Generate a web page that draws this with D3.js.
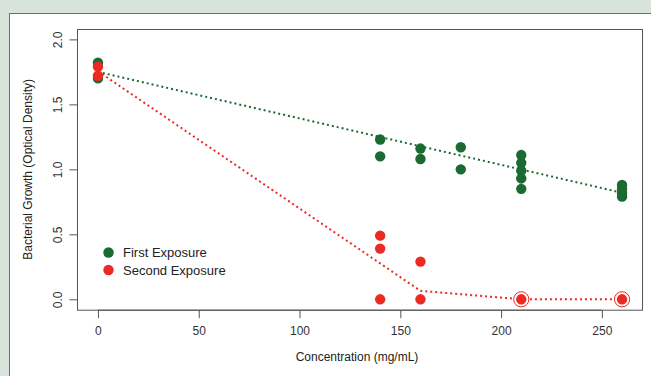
<!DOCTYPE html>
<html><head><meta charset="utf-8">
<script src="https://cdn.jsdelivr.net/npm/d3@7"></script>
<style>
html,body{margin:0;padding:0;background:#d8e4db;}
svg{display:block;font-family:"Liberation Sans",Arial,sans-serif;}
</style></head>
<body><svg id="c" width="651" height="376"></svg>
<script>
// ---- data ----
const firstX = [0,0,140,140,160,160,180,180,210,210,210,210,210,260,260,260,260];
const firstY = [1.82,1.70,1.23,1.10,1.16,1.08,1.17,1.00,1.11,1.05,0.99,0.93,0.85,0.88,0.85,0.82,0.79];
const secondX = [0,0,140,140,140,160,160,210,260];
const secondY = [1.79,1.72,0.49,0.39,0.00,0.29,0.00,0.00,0.00];
const ringX = [210,260];
const ringY = [0,0];
const fitFirstX = [0,260];
const fitFirstY = [1.75,0.82];
const fitSecondX = [0,160,210,260];
const fitSecondY = [1.755,0.065,0,0];
const xTicks = [0,50,100,150,200,250];
const yTicks = [0.0,0.5,1.0,1.5,2.0];
const seriesNames = ["First Exposure","Second Exposure"];
const colors = ["#1b6a31","#ec2a24"];

const svg = d3.select("#c");
// outer panel
svg.append("rect").attr("x",9.5).attr("y",13.5).attr("width",660).attr("height",400)
  .attr("fill","#fff").attr("stroke","#6f6f6f").attr("stroke-width",1);

const L=77, R=643, T=29, B=309.7;
const x = d3.scaleLinear().domain([-10.4,270.4]).range([L,R]);
const y = d3.scaleLinear().domain([-0.08,2.08]).range([B,T]);

// box
svg.append("rect").attr("x",L+0.5).attr("y",T+0.5).attr("width",R-L-1).attr("height",B-T)
  .attr("fill","none").attr("stroke","#555").attr("stroke-width",1);

// x axis
const xa = svg.append("g").attr("transform",`translate(0,${B+0.5})`)
  .call(d3.axisBottom(x).tickValues(xTicks).tickSize(8).tickPadding(8).tickFormat(d3.format("d")));
xa.select(".domain").attr("d",`M${x(0)},0H${x(250)}`).attr("stroke","#555");
xa.selectAll("line").attr("stroke","#555");
xa.selectAll("text").attr("font-size",12).attr("fill","#333").attr("font-family","Liberation Sans, Arial, sans-serif");

// y axis
const ya = svg.append("g").attr("transform",`translate(${L+0.5},0)`)
  .call(d3.axisLeft(y).tickValues(yTicks).tickSize(8).tickPadding(0).tickFormat(d3.format(".1f")));
ya.select(".domain").attr("d",`M0,${y(0)}V${y(2)}`).attr("stroke","#555");
ya.selectAll("line").attr("stroke","#555");
ya.selectAll("text").attr("font-size",12).attr("fill","#333")
  .attr("font-family","Liberation Sans, Arial, sans-serif")
  .attr("text-anchor","middle").attr("dy",null)
  .attr("transform","translate(-20,0) rotate(-90)").attr("x",0).attr("y",4);

// titles
svg.append("text").attr("x",357).attr("y",361).attr("text-anchor","middle")
  .attr("font-size",12).attr("fill","#222").text("Concentration (mg/mL)");
svg.append("text").attr("transform",`translate(32,${(T+B)/2}) rotate(-90)`).attr("text-anchor","middle")
  .attr("font-size",12).attr("fill","#222").text("Bacterial Growth (Optical Density)");

// lines
const line = d3.line().x(d=>x(d[0])).y(d=>y(d[1]));
svg.append("path").datum(fitFirstX.map((v,i)=>[v,fitFirstY[i]])).attr("d",line)
  .attr("fill","none").attr("stroke",colors[0]).attr("stroke-width",2).attr("stroke-dasharray","2,3");
svg.append("path").datum(fitSecondX.map((v,i)=>[v,fitSecondY[i]])).attr("d",line)
  .attr("fill","none").attr("stroke",colors[1]).attr("stroke-width",2).attr("stroke-dasharray","2,3");

// points
svg.append("g").selectAll("circle").data(firstX.map((v,i)=>[v,firstY[i]])).join("circle")
  .attr("cx",d=>x(d[0])).attr("cy",d=>y(d[1])).attr("r",5.2).attr("fill",colors[0]);
svg.append("g").selectAll("circle").data(ringX.map((v,i)=>[v,ringY[i]])).join("circle")
  .attr("cx",d=>x(d[0])).attr("cy",d=>y(d[1])).attr("r",7.6).attr("fill","#fff")
  .attr("stroke",colors[1]).attr("stroke-width",1);
svg.append("g").selectAll("circle").data(secondX.map((v,i)=>[v,secondY[i]])).join("circle")
  .attr("cx",d=>x(d[0])).attr("cy",d=>y(d[1])).attr("r",5.2).attr("fill",colors[1]);

// legend
const lg = svg.append("g");
seriesNames.forEach((n,i)=>{
  lg.append("circle").attr("cx",108.5).attr("cy",252.5+i*17.5).attr("r",5.2).attr("fill",colors[i]);
  lg.append("text").attr("x",123).attr("y",257+i*17.5).attr("font-size",13).attr("fill","#222").text(n);
});
</script></body></html>
